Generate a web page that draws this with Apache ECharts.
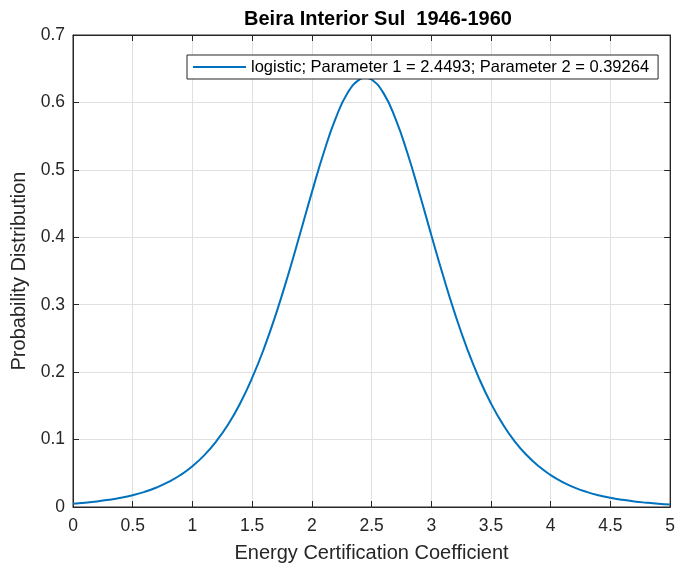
<!DOCTYPE html>
<html><head><meta charset="utf-8">
<script src="https://cdn.jsdelivr.net/npm/echarts@6/dist/echarts.min.js"></script>
<style>html,body{margin:0;padding:0;background:#fff}#c{width:678px;height:568px}</style>
</head><body><div id="c"></div>
<script>
const titleText = 'Beira Interior Sul  1946-1960';
const xName = 'Energy Certification Coefficient';
const yName = 'Probability Distribution';
const seriesName = 'logistic; Parameter 1 = 2.4493; Parameter 2 = 0.39264';
const xValues = [0,0.1,0.2,0.3,0.4,0.5,0.6,0.7,0.8,0.9,1.0,1.1,1.2,1.3,1.4,1.5,1.6,1.7,1.8,1.9,2.0,2.1,2.2,2.3,2.4,2.45,2.5,2.6,2.7,2.8,2.9,3.0,3.1,3.2,3.3,3.4,3.5,3.6,3.7,3.8,3.9,4.0,4.1,4.2,4.3,4.4,4.5,4.6,4.7,4.8,4.9,5.0];
const yValues = [0.0050,0.0064,0.0082,0.0106,0.0136,0.0175,0.0225,0.0289,0.0371,0.0474,0.0605,0.0769,0.0975,0.1228,0.1539,0.1914,0.2355,0.2865,0.3434,0.4044,0.4666,0.5257,0.5766,0.6143,0.6342,0.6367,0.6341,0.6138,0.5760,0.5249,0.4657,0.4035,0.3425,0.2857,0.2349,0.1908,0.1535,0.1225,0.0971,0.0767,0.0603,0.0472,0.0369,0.0288,0.0225,0.0175,0.0136,0.0106,0.0082,0.0064,0.0049,0.0038];
const xTicks = [0,0.5,1,1.5,2,2.5,3,3.5,4,4.5,5];
const yTicks = [0,0.1,0.2,0.3,0.4,0.5,0.6,0.7];

const font = 'Arial, "Liberation Sans", Helvetica, sans-serif';
const axisColor = '#262626';
const data = xValues.map((x,i)=>[x,yValues[i]]);
const chart = echarts.init(document.getElementById('c'));
const fmtX = v => { const t = xTicks.find(k=>Math.abs(k-v)<1e-9); return t===undefined?'':String(t); };
const fmtY = v => { const t = yTicks.find(k=>Math.abs(k-v)<1e-9); return t===undefined?'':String(t); };
chart.setOption({
  animation:false,
  title:{text:titleText,left:373,textAlign:'center',top:4,textStyle:{fontFamily:font,fontSize:20,fontWeight:'bold',color:'#000'}},
  grid:{left:73,right:5,top:35,bottom:59,show:true,borderColor:axisColor,borderWidth:1,backgroundColor:'#fff'},
  legend:{show:true,left:187,top:55,itemWidth:53,itemHeight:2,itemGap:0,padding:[3,9,3,6],
    backgroundColor:'#fff',borderColor:axisColor,borderWidth:1,borderRadius:0,
    textStyle:{fontFamily:font,fontSize:16.5,lineHeight:18,color:'#000'},
    data:[{name:seriesName,icon:'rect'}]},
  xAxis:[{type:'value',min:0,max:5,interval:0.5,position:'bottom',
    name:xName,nameLocation:'middle',nameGap:36,nameTextStyle:{fontFamily:font,fontSize:20,color:axisColor},
    axisLine:{show:true,onZero:false,lineStyle:{color:axisColor}},
    axisTick:{show:true,inside:true,length:6,lineStyle:{color:axisColor}},
    axisLabel:{fontFamily:font,fontSize:17.5,color:axisColor,margin:10,formatter:fmtX},
    splitLine:{show:true,lineStyle:{color:'#e0e0e0',width:1}}},
   {type:'value',min:0,max:5,interval:0.5,position:'top',
    axisLine:{show:true,onZero:false,lineStyle:{color:axisColor}},
    axisTick:{show:true,inside:true,length:6,lineStyle:{color:axisColor}},
    axisLabel:{show:false},splitLine:{show:false}}],
  yAxis:[{type:'value',min:0,max:0.7,interval:0.1,position:'left',
    name:yName,nameLocation:'middle',nameGap:35,nameTextStyle:{fontFamily:font,fontSize:20,color:axisColor},
    axisLine:{show:true,onZero:false,lineStyle:{color:axisColor}},
    axisTick:{show:true,inside:true,length:6,lineStyle:{color:axisColor}},
    axisLabel:{fontFamily:font,fontSize:17.5,color:axisColor,margin:8,formatter:fmtY},
    splitLine:{show:true,lineStyle:{color:'#e0e0e0',width:1}}},
   {type:'value',min:0,max:0.7,interval:0.1,position:'right',
    axisLine:{show:true,onZero:false,lineStyle:{color:axisColor}},
    axisTick:{show:true,inside:true,length:6,lineStyle:{color:axisColor}},
    axisLabel:{show:false},splitLine:{show:false}}],
  series:[{name:seriesName,type:'line',data:data,smooth:true,symbol:'none',
    lineStyle:{color:'#0072BD',width:2},itemStyle:{color:'#0072BD'}}]
});
</script></body></html>
